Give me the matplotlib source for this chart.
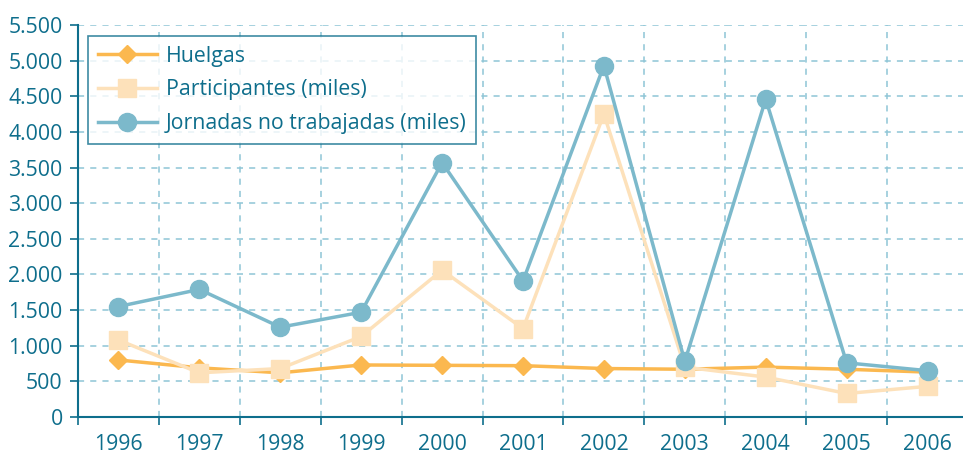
import matplotlib as mpl
mpl.use('Agg')
import matplotlib.pyplot as plt
from matplotlib.ticker import FuncFormatter

plt.rcParams['font.family'] = ['Open Sans', 'DejaVu Sans']

years = ['1996', '1997', '1998', '1999', '2000', '2001',
         '2002', '2003', '2004', '2005', '2006']
huelgas = [800, 690, 620, 730, 725, 720, 680, 670, 700, 670, 630]
participantes = [1080, 620, 680, 1130, 2060, 1240, 4250, 700, 560, 330, 430]
jornadas = [1550, 1790, 1260, 1470, 3570, 1910, 4930, 780, 4460, 760, 650]
y_ticks = list(range(0, 5501, 500))

teal = '#0e6e8c'
grid_col = '#8ec5d6'
fs = 15.3

fig = plt.figure(figsize=(9.63, 4.57), dpi=100)
# axes runs a little past the right edge of the figure
ax = fig.add_axes([78 / 963, (457 - 417) / 457, 890 / 963, 392 / 457])

x = list(range(len(years)))
ax.plot(x, huelgas, color='#fbb84f', lw=2.5, marker='D', ms=9,
        label='Huelgas', zorder=3)
ax.plot(x, participantes, color='#fde1ba', lw=2.5, marker='s', ms=13,
        label='Participantes (miles)', zorder=4)
ax.plot(x, jornadas, color='#7cb9cb', lw=2.5, marker='o', ms=13,
        label='Jornadas no trabajadas (miles)', zorder=5)

ax.set_xlim(-0.5, len(years) - 0.5)
ax.set_ylim(0, 5500)
ax.set_yticks(y_ticks)
ax.yaxis.set_major_formatter(
    FuncFormatter(lambda v, p: f'{int(v):,}'.replace(',', '.')))

# category labels centred, ticks/grid on the boundaries
ax.set_xticks([i + 0.5 for i in x[:-1]] + [-0.5])
ax.set_xticklabels([])
ax.set_xticks(x, minor=True)
ax.set_xticklabels(years, minor=True)
ax.tick_params(axis='x', which='minor', length=0, pad=12,
               labelsize=fs, labelcolor=teal)
ax.tick_params(axis='x', which='major', length=6, width=1.2, color=teal)
ax.tick_params(axis='y', length=6, width=1.2, color=teal, pad=5,
               labelsize=fs, labelcolor=teal)

ax.grid(True, which='major', color=grid_col, ls=(0, (4, 4)), lw=1.1)
for s in ['top', 'right']:
    ax.spines[s].set_visible(False)
for s in ['left', 'bottom']:
    ax.spines[s].set_color(teal)
    ax.spines[s].set_linewidth(1.5)
ax.set_axisbelow(True)

leg = ax.legend(loc='upper left', bbox_to_anchor=(10 / 890, 1 - 11 / 392),
                fontsize=fs, frameon=True, fancybox=False,
                handlelength=2.8, borderpad=0.45, labelspacing=0.6,
                handletextpad=0.4, borderaxespad=0)
leg.get_frame().set_edgecolor(teal)
leg.get_frame().set_linewidth(1.2)
for t in leg.get_texts():
    t.set_color(teal)

fig.savefig('out.png', dpi=100)
